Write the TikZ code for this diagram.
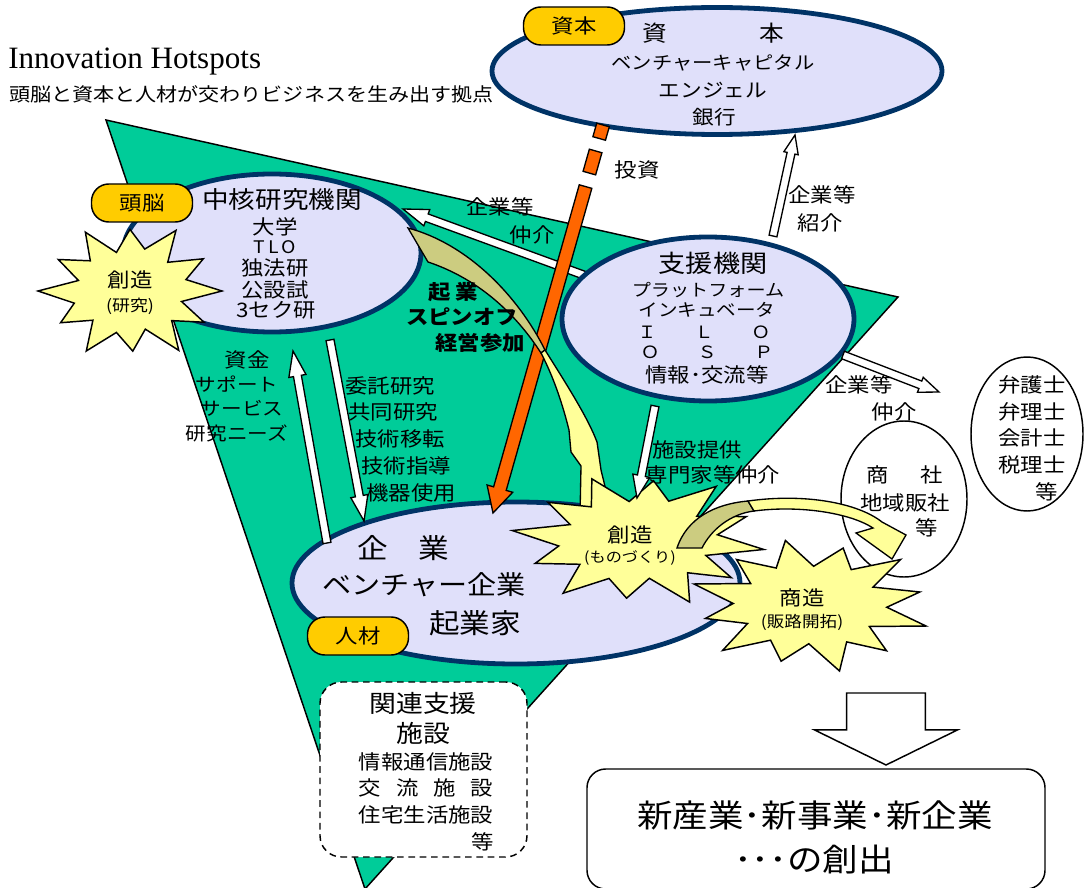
\documentclass[tikz,border=0pt]{standalone}
\usepackage{fontspec}
\setmainfont[FakeStretch=1.12]{Noto Sans CJK JP}
\newfontfamily\titleserif{Liberation Serif}
\usetikzlibrary{calc,shapes.geometric}
\definecolor{trigreen}{RGB}{0,204,153}
\definecolor{ellfill}{RGB}{224,224,250}
\definecolor{ringblue}{RGB}{0,51,102}
\definecolor{taggold}{RGB}{255,204,0}
\definecolor{burstyel}{RGB}{255,255,153}
\definecolor{khakiback}{RGB}{204,204,128}
\definecolor{orangearr}{RGB}{255,102,0}
\newcommand\fsz[1]{\fontsize{#1pt}{#1pt}\selectfont}
% block arrow: [style]{start}{end}{half shaft}{half head}{head length}
\newcommand\blockarrow[6][]{%
  \coordinate (ba-base) at ($(#3)!#6!(#2)$);
  \draw[#1] ($(#2)!#4!90:(#3)$) -- ($(ba-base)!#4!-90:(#2)$) -- ($(ba-base)!#5!-90:(#2)$) -- (#3) -- ($(ba-base)!#5!90:(#2)$) -- ($(ba-base)!#4!90:(#2)$) -- ($(#2)!#4!-90:(#3)$) -- cycle;}
% bar segment: [style]{from}{to}{half width}
\newcommand\barseg[4][]{%
  \draw[#1] ($(#2)!#4!90:(#3)$) -- ($(#3)!#4!-90:(#2)$) -- ($(#3)!#4!90:(#2)$) -- ($(#2)!#4!-90:(#3)$) -- cycle;}
\newcommand\burstpts{15/0.58, 29/0.92, 43/0.62, 58/1.00, 73/0.57, 88/0.86, 104/0.61, 119/0.98, 134/0.58, 149/0.88, 164/0.63, 180/1.00, 195/0.58, 210/0.90, 225/0.61, 240/0.97, 255/0.57, 270/0.88, 285/0.62, 300/1.00, 315/0.58, 330/0.92, 345/0.63}
% burst: {name}{cx}{cy}{rx}{ry}{rotation}
\newcommand\burst[6]{%
  \coordinate (#1) at (#2,#3);
  \draw[burststyle] ({#2+#4*cos(#6)},{#3+#5*sin(#6)}) \foreach \burA/\burR in \burstpts {-- ({#2+\burR*#4*cos(\burA+#6)},{#3+\burR*#5*sin(\burA+#6)})} -- cycle;}
\begin{document}
\begin{tikzpicture}[x=0.75pt,y=-0.75pt,
  tx/.style={inner sep=0pt, font=\fsz{15}},
  ell/.style={ellipse, draw=ringblue, line width=3.6pt, fill=ellfill, inner sep=0pt},
  thinell/.style={ellipse, draw=black, line width=1.1pt, fill=white, inner sep=0pt},
  tag/.style={rectangle, rounded corners=13pt, draw=black, line width=1.1pt, fill=taggold, minimum width=101*0.75pt, minimum height=38*0.75pt, inner sep=0pt, font=\fsz{15}},
  whitearrow/.style={draw=black, fill=white, line width=1pt, line join=miter},
  burststyle/.style={draw=black, fill=burstyel, line width=1.1pt, line join=miter},
  orangefill/.style={draw=black, fill=orangearr, line width=1pt, line join=miter},
  ribbonback/.style={draw=black, fill=khakiback, line width=1pt},
  ribbonfront/.style={draw=black, fill=burstyel, line width=1pt},
]
\useasboundingbox (0,0) rectangle (1089,888);

% green triangle
\coordinate (triA) at (106,120);
\coordinate (triB) at (898,297);
\coordinate (triC) at (365,889);
\draw[fill=trigreen, line width=1.1pt, line join=miter] (triA) -- (triB) -- (triC) -- cycle;

% ellipses (support drawn after the arrow that leaves from under it)
\node[ell, minimum width=450*0.75pt, minimum height=127*0.75pt] (capital) at (717,71) {};
\node[ell, minimum width=298*0.75pt, minimum height=158*0.75pt] (core) at (272,253) {};
\coordinate (aS) at (600,281); \coordinate (aT) at (403,209);
\blockarrow[whitearrow]{aS}{aT}{3pt}{6.5pt}{19pt}
\node[ell, minimum width=292*0.75pt, minimum height=164*0.75pt] (support) at (708,319) {};
\node[ell, minimum width=448*0.75pt, minimum height=162*0.75pt] (firm) at (516,583) {};
\node[thinell, minimum width=126*0.75pt, minimum height=156*0.75pt] (trade) at (904,499) {};
\node[thinell, minimum width=112*0.75pt, minimum height=154*0.75pt] (prof) at (1027,434) {};

% white arrows
\coordinate (bS) at (330,340); \coordinate (bT) at (364,521);
\coordinate (cS) at (327,543); \coordinate (cT) at (293,351);
\coordinate (dS) at (655,406); \coordinate (dT) at (637,498);
\coordinate (eS) at (773,236); \coordinate (eT) at (795,135);
\coordinate (fS) at (843,355); \coordinate (fT) at (939,392);
\blockarrow[whitearrow]{bS}{bT}{3pt}{6.5pt}{19pt}
\blockarrow[whitearrow]{cS}{cT}{3pt}{6.5pt}{19pt}
\blockarrow[whitearrow]{eS}{eT}{3pt}{5.5pt}{14pt}
\blockarrow[whitearrow]{fS}{fT}{3pt}{6pt}{15pt}

% orange investment arrow
\coordinate (oS) at (603,125); \coordinate (oT) at (493,513);
\coordinate (o1) at ($(oS)!10.5pt!(oT)$);
\coordinate (o2) at ($(oS)!20.25pt!(oT)$);
\coordinate (o3) at ($(oS)!37.5pt!(oT)$);
\coordinate (o4) at ($(oS)!48pt!(oT)$);
\barseg[orangefill]{oS}{o1}{4.9pt}
\barseg[orangefill]{o2}{o3}{4.9pt}
\blockarrow[orangefill]{o4}{oT}{4.9pt}{10pt}{19pt}

% curved ribbon arrow: core -> creation (monozukuri)
\draw[ribbonback] (408,228) .. controls (468,244) and (518,296) .. (545,350) -- (541,353) .. controls (510,305) and (470,276) .. (428,262) -- cycle;
\draw[ribbonfront] (545,350) .. controls (567,385) and (588,418) .. (597,442) -- (601,470) -- (612,515) -- (598,540) -- (580,516) -- (581,466) -- (571,452) -- (569,430) .. controls (562,402) and (553,376) .. (541,353) -- cycle;

% tags
\node[tag] (tagcap) at (574,26) {資本};
\node[tag] (tagbrain) at (142,203) {頭脳};
\node[tag] (taghr) at (358,636) {人材};

% bursts
\burst{burstA}{130}{291}{92}{70}{0}
\burst{burstB}{638}{540}{127}{68}{8}
\burst{burstC}{810}{605}{122}{68}{18}

% arrow from support to creation, on top of the burst
\blockarrow[whitearrow]{dS}{dT}{3pt}{6.5pt}{17pt}

% curved ribbon arrow: creation -> trading companies
\draw[ribbonback] (677,548) .. controls (687,518) and (715,504) .. (748,501) -- (754,511) .. controls (730,514) and (711,530) .. (702,548) -- cycle;
\draw[ribbonfront] (748,501) .. controls (805,493) and (858,503) .. (882,522) -- (906,535) -- (892,559) -- (856,533) -- (873,528) .. controls (850,513) and (800,505) .. (754,511) -- cycle;

% related facilities box
\node[draw=black, dash pattern=on 5pt off 3.5pt, fill=white, rounded corners=16pt, line width=1.1pt, minimum width=207*0.75pt, minimum height=175*0.75pt, inner sep=0pt] (facil) at (423.5,769.5) {};

% big down arrow and result box
\coordinate (gS) at (886,693); \coordinate (gT) at (886,765);
\blockarrow[whitearrow, line width=1.1pt]{gS}{gT}{29.6pt}{53.6pt}{26.3pt}
\node[draw=black, fill=white, rounded corners=14pt, line width=1.1pt, minimum width=458*0.75pt, minimum height=120*0.75pt, inner sep=0pt] (result) at (816,829) {};

% ---- texts ----
\node[inner sep=0pt, anchor=west, font=\titleserif\fsz{23.3}] (title) at (8,62) {Innovation Hotspots};
\node[tx, anchor=west, font=\fsz{14.1}] (subtitle) at (9,94) {頭脳と資本と人材が交わりビジネスを生み出す拠点};

\node[tx, font=\fsz{16.5}] (capA1) at (655,33) {資};
\node[tx, font=\fsz{16.5}] (capA2) at (772,33) {本};
\node[tx, font=\fsz{13.6}] (capB) at (713,63) {ベンチャーキャピタル};
\node[tx, font=\fsz{14.5}] (capC) at (713,90) {エンジェル};
\node[tx, font=\fsz{14.5}] (capD) at (714,117) {銀行};

\node[tx, font=\fsz{17.8}] (coreA) at (282,200) {中核研究機関};
\node[tx] (coreB) at (275,227) {大学};
\node[tx, font=\fsz{13}] (coreC) at (275,247) {T\,L\,O};
\node[tx] (coreD) at (275,268) {独法研};
\node[tx] (coreE) at (275,290) {公設試};
\node[tx] (coreF) at (276,310) {3セク研};

\node[tx, font=\fsz{18.2}] (supA) at (713,263) {支援機関};
\node[tx, font=\fsz{12.8}] (supB) at (708,290) {プラットフォーム};
\node[tx, font=\fsz{13.1}] (supC) at (707,310) {インキュベータ};
\node[tx, font=\fsz{12.7}] (supD) at (704,332) {Ｉ　　Ｌ　　Ｏ};
\node[tx, font=\fsz{12.7}] (supE) at (707,352) {Ｏ　　Ｓ　　Ｐ};
\node[tx] (supF) at (707,375) {情報･交流等};

\node[tx, font=\fsz{20.5}] (firmA) at (403,548) {企　業};
\node[tx, font=\fsz{19.5}] (firmB) at (424,585) {ベンチャー企業};
\node[tx, font=\fsz{20.5}] (firmC) at (475,623) {起業家};

\node[tx] (lblA) at (500,207) {企業等};
\node[tx] (lblB) at (532,235) {仲介};
\node[tx] (lblC) at (637,170) {投資};
\node[tx] (lblD) at (822,195) {企業等};
\node[tx] (lblE) at (820,223) {紹介};
\node[tx, font=\fsz{15}\bfseries] (lblF) at (453,292) {起 業};
\node[tx, font=\fsz{15}\bfseries] (lblG) at (462,317) {スピンオフ};
\node[tx, font=\fsz{15}\bfseries] (lblH) at (480,343) {経営参加};
\node[tx] (lblI) at (247,360) {資金};
\node[tx, font=\fsz{13.8}] (lblJ) at (237,384) {サポート};
\node[tx, font=\fsz{13.8}] (lblK) at (242,408) {サービス};
\node[tx, font=\fsz{13.8}] (lblL) at (237,433) {研究ニーズ};
\node[tx] (lblM) at (390,386) {委託研究};
\node[tx] (lblN) at (393,412) {共同研究};
\node[tx] (lblO) at (400,439) {技術移転};
\node[tx] (lblP) at (406,466) {技術指導};
\node[tx] (lblQ) at (411,493) {機器使用};
\node[tx] (lblR) at (697,450) {施設提供};
\node[tx] (lblS) at (713,475) {専門家等仲介};
\node[tx] (lblT) at (859,385) {企業等};
\node[tx] (lblU) at (894,412) {仲介};

\node[tx] (trA1) at (878,475) {商};
\node[tx] (trA2) at (932,475) {社};
\node[tx] (trB) at (905,503) {地域販社};
\node[tx] (trC) at (927,528) {等};

\node[tx] (prA) at (1032,385) {弁護士};
\node[tx] (prB) at (1032,412) {弁理士};
\node[tx] (prC) at (1032,438) {会計士};
\node[tx] (prD) at (1032,465) {税理士};
\node[tx] (prE) at (1047,492) {等};

\node[tx] (bAa) at (130,280) {創造};
\node[tx, font=\fsz{12}] (bAb) at (130,306) {(研究)};
\node[tx] (bBa) at (630,535) {創造};
\node[tx, font=\fsz{10.8}] (bBb) at (630,558) {(ものづくり)};
\node[tx] (bCa) at (802,598) {商造};
\node[tx, font=\fsz{11.8}] (bCb) at (802,622) {(販路開拓)};

\node[tx, font=\fsz{18}] (faA) at (423,703) {関連支援};
\node[tx, font=\fsz{18}] (faB) at (423,733) {施設};
\node[tx] (faC) at (426,762) {情報通信施設};
\node[tx] (faD) at (426,788) {交\hspace{0.75em}流\hspace{0.75em}施\hspace{0.75em}設};
\node[tx] (faE) at (426,815) {住宅生活施設};
\node[tx] (faF) at (483,842) {等};

\node[tx, font=\fsz{23.8}] (resA) at (815,815) {新産業･新事業･新企業};
\node[tx, font=\fsz{23.8}] (resB) at (814,860) {･･･の創出};
\end{tikzpicture}
\end{document}
